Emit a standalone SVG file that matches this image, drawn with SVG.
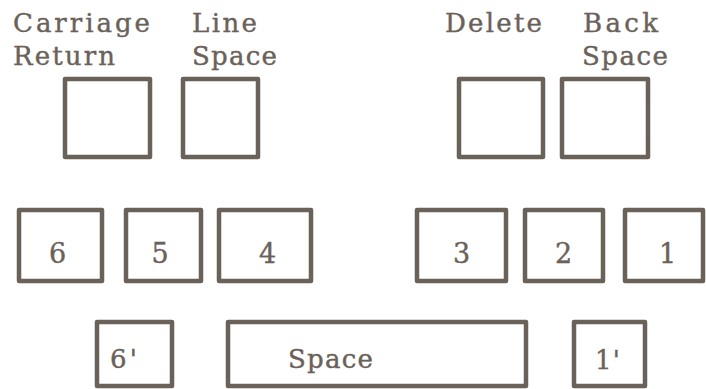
<svg xmlns="http://www.w3.org/2000/svg" width="706" height="389" viewBox="0 0 706 389">
<style>
.k{fill:none;stroke:#6a6159;stroke-width:4.5;stroke-linejoin:round}
.t{fill:#6a6159;stroke:#6a6159;stroke-width:0.4;font-family:"DejaVu Serif","Liberation Serif",serif;font-size:26px}
.d{fill:#6a6159;stroke:#6a6159;stroke-width:0.4;font-family:"DejaVu Serif","Liberation Serif",serif;font-size:27px;text-anchor:middle}
</style>
<rect width="706" height="389" fill="#ffffff"/>
<g id="carriage-return">
<text class="t" x="13" y="32" textLength="137" lengthAdjust="spacing">Carriage</text>
<text class="t" x="13" y="65" textLength="102" lengthAdjust="spacing">Return</text>
<rect class="k" x="65" y="79" width="85" height="78"/>
</g>
<g id="line-space">
<text class="t" x="192" y="32" textLength="65" lengthAdjust="spacing">Line</text>
<text class="t" x="192" y="65" textLength="85" lengthAdjust="spacing">Space</text>
<rect class="k" x="183" y="79" width="75" height="78"/>
</g>
<g id="delete">
<text class="t" x="445" y="32" textLength="97" lengthAdjust="spacing">Delete</text>
<rect class="k" x="459" y="79" width="84" height="78"/>
</g>
<g id="back-space">
<text class="t" x="583" y="32" textLength="75" lengthAdjust="spacing">Back</text>
<text class="t" x="582" y="65" textLength="86" lengthAdjust="spacing">Space</text>
<rect class="k" x="562" y="79" width="86" height="78"/>
</g>
<g id="key-6"><rect class="k" x="19" y="210" width="83" height="71"/><text class="d" x="57.5" y="263">6</text></g>
<g id="key-5"><rect class="k" x="126" y="210" width="75" height="71"/><text class="d" x="160" y="263">5</text></g>
<g id="key-4"><rect class="k" x="219" y="210" width="92" height="71"/><text class="d" x="267.5" y="263">4</text></g>
<g id="key-3"><rect class="k" x="417" y="210" width="89" height="71"/><text class="d" x="461.5" y="263">3</text></g>
<g id="key-2"><rect class="k" x="525" y="210" width="78" height="71"/><text class="d" x="563.5" y="263">2</text></g>
<g id="key-1"><rect class="k" x="625" y="210" width="78" height="71"/><text class="d" x="667.5" y="263">1</text></g>
<g id="key-6p"><rect class="k" x="97" y="322" width="75" height="64"/><text class="t" x="110" y="368" textLength="27" lengthAdjust="spacing">6'</text></g>
<g id="key-space"><rect class="k" x="228" y="322" width="298" height="64"/><text class="t" x="288" y="368" textLength="85" lengthAdjust="spacing">Space</text></g>
<g id="key-1p"><rect class="k" x="574" y="322" width="71" height="64"/><text class="t" x="595" y="369" textLength="25" lengthAdjust="spacing">1'</text></g>
<g id="connectors"></g>
</svg>
